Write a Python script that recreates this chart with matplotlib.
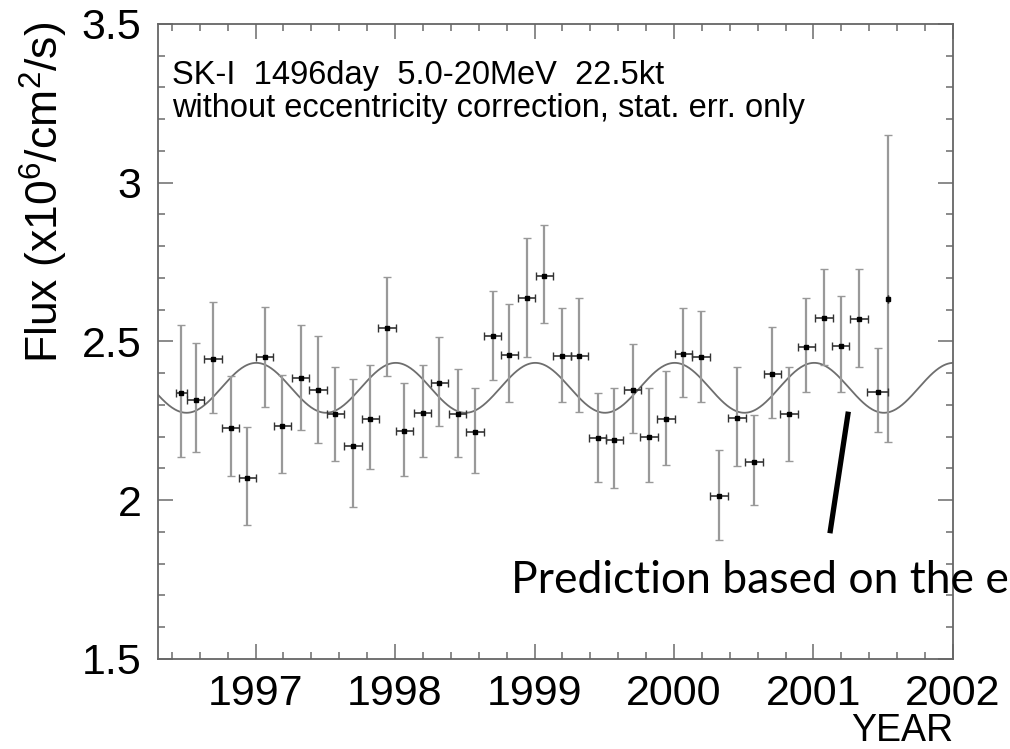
import numpy as np
import matplotlib
matplotlib.use("Agg")
import matplotlib.pyplot as plt
from matplotlib.ticker import MultipleLocator

plt.rcParams['font.family'] = ['Liberation Sans', 'DejaVu Sans']
plt.rcParams['mathtext.fontset'] = 'custom'
plt.rcParams['mathtext.rm'] = 'Liberation Sans'
plt.rcParams['mathtext.it'] = 'Liberation Sans:italic'

# 1.5-month bins, SK-I
year = [1996.468, 1996.570, 1996.694, 1996.821, 1996.941, 1997.064, 1997.191,
        1997.322, 1997.446, 1997.571, 1997.697, 1997.822, 1997.941, 1998.067,
        1998.198, 1998.318, 1998.449, 1998.574, 1998.700, 1998.819, 1998.943,
        1999.070, 1999.197, 1999.321, 1999.452, 1999.572, 1999.703, 1999.822,
        1999.943, 2000.068, 2000.193, 2000.324, 2000.451, 2000.575, 2000.706,
        2000.825, 2000.949, 2001.076, 2001.195, 2001.326, 2001.462, 2001.536]
flux = [2.337, 2.316, 2.444, 2.227, 2.069, 2.450, 2.235, 2.384, 2.347, 2.271,
        2.172, 2.255, 2.543, 2.218, 2.276, 2.368, 2.273, 2.216, 2.517, 2.457,
        2.636, 2.707, 2.454, 2.454, 2.195, 2.190, 2.347, 2.200, 2.256, 2.461,
        2.450, 2.013, 2.260, 2.121, 2.398, 2.272, 2.484, 2.573, 2.487, 2.570,
        2.340, 2.633]
err_up = [0.215, 0.178, 0.179, 0.164, 0.163, 0.160, 0.159, 0.168, 0.171, 0.150,
          0.210, 0.171, 0.159, 0.150, 0.150, 0.145, 0.140, 0.139, 0.142, 0.160,
          0.191, 0.160, 0.151, 0.182, 0.142, 0.163, 0.144, 0.155, 0.151, 0.144,
          0.146, 0.145, 0.161, 0.147, 0.147, 0.149, 0.152, 0.154, 0.156, 0.157,
          0.139, 0.517]
err_dn = [0.200, 0.165, 0.170, 0.151, 0.147, 0.155, 0.150, 0.163, 0.166, 0.147,
          0.192, 0.158, 0.152, 0.141, 0.139, 0.134, 0.136, 0.131, 0.138, 0.148,
          0.184, 0.150, 0.145, 0.175, 0.137, 0.150, 0.134, 0.142, 0.145, 0.135,
          0.140, 0.138, 0.152, 0.136, 0.140, 0.148, 0.144, 0.147, 0.147, 0.151,
          0.124, 0.449]
bin_half = [0.038] + [0.0625] * 39 + [0.075, 0.0]

# 1/r^2 prediction
mean_flux = 2.354
ecc = 0.0167
perihelion = 0.005

year_ticks = [1997, 1998, 1999, 2000, 2001, 2002]
flux_ticks = [1.5, 2, 2.5, 3, 3.5]
flux_labels = ['1.5', '2', '2.5', '3', '3.5']

pointer_x = [2001.25, 2001.118]
pointer_y = [2.279, 1.896]

fig = plt.figure(figsize=(10.1, 7.49), dpi=100)
ax = fig.add_axes([0.1564, 0.1202, 0.7871, 0.8478])

t = np.linspace(1996.3, 2002.0, 800)
pred = mean_flux * (1 + 2 * ecc * np.cos(2 * np.pi * (t - perihelion)))
ax.plot(t, pred, color='#6e6e6e', lw=1.3, zorder=2)

ax.errorbar(year, flux, yerr=[err_dn, err_up], fmt='none', ecolor='#999999',
            elinewidth=1.6, capsize=3, capthick=1.0, zorder=3)
ax.errorbar(year, flux, xerr=bin_half, fmt='s', color='black', ms=3.5,
            ecolor='#333333', elinewidth=1.2, capsize=3, capthick=1.0, zorder=4)

ax.plot(pointer_x, pointer_y, color='black', lw=3.8, solid_capstyle='butt',
        zorder=5)
ax.text(1998.831, 1.708, 'Prediction based on the e', family=['Lato', 'DejaVu Sans'],
        fontsize=32, va='baseline', ha='left', clip_on=False, zorder=6)

ax.text(0.018, 0.905, 'SK-I  1496day  5.0-20MeV  22.5kt', transform=ax.transAxes,
        fontsize=23.5, va='baseline')
ax.text(0.018, 0.853, 'without eccentricity correction, stat. err. only',
        transform=ax.transAxes, fontsize=23.5, va='baseline')

ax.set_xlim(1996.3, 2002.0)
ax.set_ylim(1.5, 3.5)
ax.set_xticks(year_ticks)
ax.set_xticklabels([str(y) for y in year_ticks])
ax.set_yticks(flux_ticks)
ax.set_yticklabels(flux_labels)
ax.xaxis.set_minor_locator(MultipleLocator(0.2))
ax.yaxis.set_minor_locator(MultipleLocator(0.1))

ax.tick_params(which='both', direction='in', top=True, right=True, color='#777777',
               width=1.2)
ax.tick_params(which='major', length=11, labelsize=31)
ax.tick_params(which='minor', length=5)
ax.tick_params(axis='x', pad=11)
ax.tick_params(axis='y', pad=12)
for s in ax.spines.values():
    s.set_color('#666666')
    s.set_linewidth(1.3)

fig.text(0.0436, 0.515, r'Flux (x10$^6$/cm$^2$/s)', rotation=90, ha='center',
         va='bottom', fontsize=32)
fig.text(0.9436, 0.0107, 'YEAR', ha='right', va='baseline', fontsize=27)

fig.savefig('out.png', dpi=100)
